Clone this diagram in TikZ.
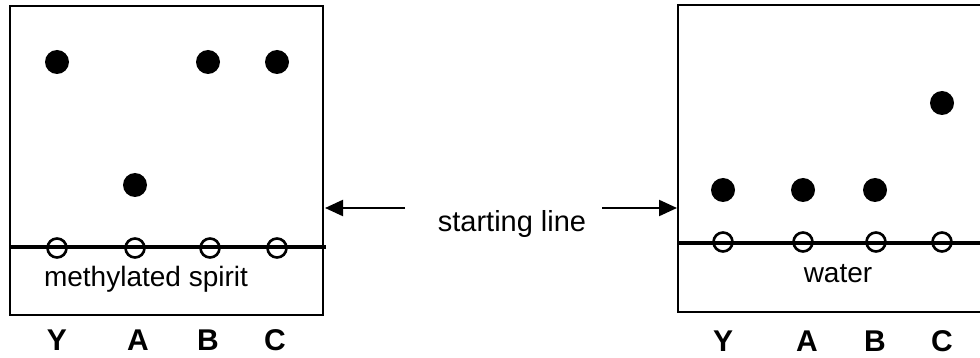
\documentclass[tikz,border=0pt]{standalone}
\usepackage{fontspec}
\setmainfont{Liberation Sans}
\usetikzlibrary{arrows.meta}
\begin{document}
\begin{tikzpicture}[x=1pt,y=-1pt,
  dot/.style={circle,fill=black,inner sep=0pt,minimum size=24pt},
  spot/.style={circle,draw=black,line width=2.6pt,inner sep=0pt,minimum size=19pt},
  frame/.style={line width=2.4pt},
  origin/.style={line width=4pt},
  lab/.style={font=\fontsize{30}{32}\selectfont\bfseries,anchor=base,inner sep=0pt},
  txt/.style={font=\fontsize{28}{32}\selectfont,anchor=base,inner sep=0pt},
  arr/.style={line width=2.2pt,-{Triangle[length=18pt,width=16pt]}}]
\useasboundingbox (0,0) rectangle (980,358);

% ---- left plate (methylated spirit)
\draw[frame] (10,6) rectangle (323,315);
\draw[origin] (10,247) -- (326,247);
\node[dot] (lY1) at (57,62) {};
\node[dot] (lA1) at (135,185) {};
\node[dot] (lB1) at (208,62) {};
\node[dot] (lC1) at (277,62) {};
\node[spot] (lY0) at (57,248) {};
\node[spot] (lA0) at (135,248) {};
\node[spot] (lB0) at (210,248) {};
\node[spot] (lC0) at (277,248) {};
\node[txt] (lsolv) at (146,286) {methylated spirit};
\node[lab] (lYl) at (57,350) {Y};
\node[lab] (lAl) at (138,350) {A};
\node[lab] (lBl) at (208,350) {B};
\node[lab] (lCl) at (275,350) {C};

% ---- right plate (water)
\draw[frame] (981,5) -- (678,5) -- (678,312) -- (981,312);
\draw[origin] (678,243) -- (981,243);
\node[dot] (rY1) at (723,190) {};
\node[dot] (rA1) at (803,190) {};
\node[dot] (rB1) at (875,190) {};
\node[dot] (rC1) at (942,103) {};
\node[spot] (rY0) at (723,242) {};
\node[spot] (rA0) at (803,242) {};
\node[spot] (rB0) at (876,242) {};
\node[spot] (rC0) at (942,242) {};
\node[txt] (rsolv) at (838,282) {water};
\node[lab] (rYl) at (723,351) {Y};
\node[lab] (rAl) at (807,351) {A};
\node[lab] (rBl) at (875,351) {B};
\node[lab] (rCl) at (942,351) {C};

% ---- starting line label and arrows
\node[txt,font=\fontsize{29}{32}\selectfont] (sl) at (512,232) {starting line};
\coordinate (la0) at (405,208);
\coordinate (la1) at (325,208);
\coordinate (ra0) at (602,208);
\coordinate (ra1) at (677,208);
\draw[arr] (la0) -- (la1);
\draw[arr] (ra0) -- (ra1);
\end{tikzpicture}
\end{document}
